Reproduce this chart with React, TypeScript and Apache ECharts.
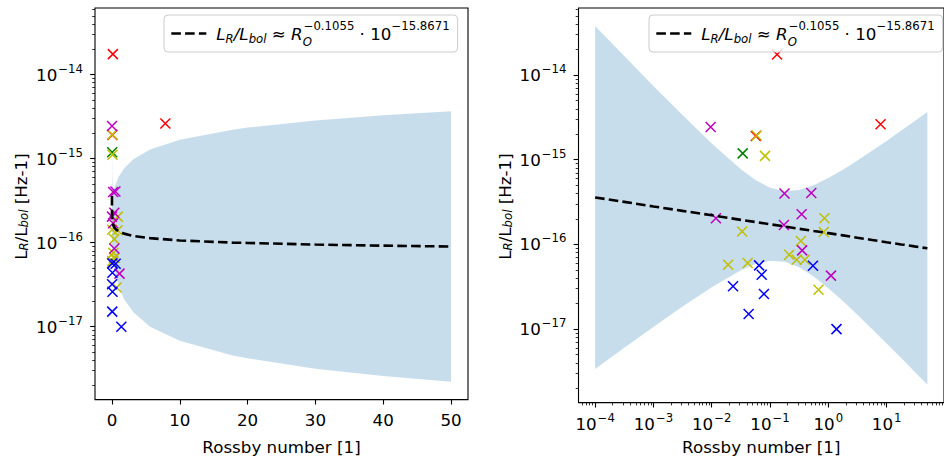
import React, { useEffect, useRef } from 'react';
import * as echarts from 'echarts';

// ---------------- data ----------------
// Rossby number [1], L_R/L_bol [Hz-1]
const redPoints: number[][] = [[0.132, 1.75e-14], [0.057, 1.91e-15], [7.87, 2.62e-15]];
const greenPoints: number[][] = [[0.034, 1.19e-15]];
const yellowPoints: number[][] = [
  [0.059, 1.93e-15], [0.082, 1.11e-15], [0.857, 2.04e-16], [0.0332, 1.42e-16],
  [0.834, 1.40e-16], [0.338, 1.10e-16], [0.213, 7.55e-17], [0.286, 6.59e-17],
  [0.395, 6.59e-17], [0.0191, 5.75e-17], [0.0414, 6.03e-17], [0.679, 2.92e-17],
];
const magentaPoints: number[][] = [
  [0.0096, 2.44e-15], [0.177, 4.0e-16], [0.51, 4.05e-16], [0.0118, 2.04e-16],
  [0.348, 2.27e-16], [0.173, 1.70e-16], [0.356, 8.5e-17], [1.11, 4.28e-17],
];
const bluePoints: number[][] = [
  [0.0649, 5.66e-17], [0.072, 4.39e-17], [0.545, 5.6e-17], [0.0232, 3.2e-17],
  [0.0787, 2.6e-17], [0.043, 1.51e-17], [1.38, 1.0e-17],
];

// fit line and its shaded band, sampled along the Rossby number
const bandX = [1e-4, 3.16e-4, 1e-3, 3.16e-3, 0.01, 0.0316, 0.0562, 0.1, 0.178, 0.316, 0.562, 1, 1.78, 3.16, 5.62, 10, 17.8, 20, 30, 40, 50];
const fitY = [3.59e-16, 3.18e-16, 2.81e-16, 2.49e-16, 2.21e-16, 1.95e-16, 1.84e-16, 1.73e-16, 1.63e-16, 1.53e-16, 1.44e-16, 1.36e-16, 1.28e-16, 1.20e-16, 1.13e-16, 1.06e-16, 1.00e-16, 9.91e-17, 9.48e-17, 9.20e-17, 8.99e-17];
const bandUpper = [3.80e-14, 1.68e-14, 7.45e-15, 3.37e-15, 1.56e-15, 7.73e-16, 5.78e-16, 4.67e-16, 4.24e-16, 4.39e-16, 5.00e-16, 6.07e-16, 7.62e-16, 9.79e-16, 1.28e-15, 1.67e-15, 2.21e-15, 2.34e-15, 2.84e-15, 3.28e-15, 3.66e-15];
const bandLower = [3.39e-18, 6.03e-18, 1.06e-17, 1.85e-17, 3.13e-17, 4.94e-17, 5.86e-17, 6.41e-17, 6.25e-17, 5.37e-17, 4.17e-17, 3.04e-17, 2.14e-17, 1.48e-17, 1.00e-17, 6.78e-18, 4.55e-18, 4.20e-18, 3.16e-18, 2.58e-18, 2.21e-18];

// tick labels (exponents of ten / linear values)
const yMajorExponents = [-17, -16, -15, -14];
const xMajorExponentsRight = [-4, -3, -2, -1, 0, 1];
const xTicksLeft = [0, 10, 20, 30, 40, 50];

const xLabel = 'Rossby number [1]';
const fitName = 'fit';

// ---------------- styling ----------------
const FONT = 'DejaVu Sans';
const FS = 16.7;
const FS_SMALL = 11.7;
const Y_MIN = -17.868;
const Y_MAX = -13.208;
const XR_MIN = -4.285;
const XR_MAX = 1.984;
const XL_MIN = -2.5;
const XL_MAX = 52.5;
const FIT_LINE = { color: '#000', width: 2.6, type: [9.6, 4.2] };

const lg = (v: number) => Math.log10(v);
const MINUS = '\u2212';

function minorLogValues(lo: number, hi: number): number[] {
  const out: number[] = [];
  for (let n = Math.floor(lo); n <= Math.ceil(hi); n++) {
    for (let k = 2; k <= 9; k++) {
      const v = n + Math.log10(k);
      if (v >= lo && v <= hi) out.push(v);
    }
  }
  return out;
}

const tickRich = {
  b: { fontFamily: FONT, fontSize: FS, color: '#000', lineHeight: 24, verticalAlign: 'middle' },
  s: { fontFamily: FONT, fontSize: FS_SMALL, color: '#000', lineHeight: 12, verticalAlign: 'top', padding: [0, 0, 0, 1] },
};
const powLabel = (v: number) => {
  const n = Math.round(v);
  return `{b|10}{s|${n < 0 ? MINUS + -n : String(n)}}`;
};

const tickLine = { color: '#000', width: 1.1 };

const legendText =
  `{iL|L}{sub|R}{i|/L}{sub|bol}{n| \u2248 }{i|R}{subO|O}{sup|${MINUS}0.1055}{n| \u00b7 10}{sup|${MINUS}15.8671}`;
const legendRich = {
  iL: { fontFamily: FONT, fontStyle: 'italic', fontSize: FS, color: '#000', lineHeight: 30, verticalAlign: 'middle', padding: [0, 0, 0, 5] },
  i: { fontFamily: FONT, fontStyle: 'italic', fontSize: FS, color: '#000', lineHeight: 30, verticalAlign: 'middle' },
  n: { fontFamily: FONT, fontSize: FS, color: '#000', lineHeight: 30, verticalAlign: 'middle' },
  sub: { fontFamily: FONT, fontStyle: 'italic', fontSize: FS_SMALL, color: '#000', lineHeight: 12, verticalAlign: 'bottom', padding: [0, 0, 4, 0] },
  subO: { fontFamily: FONT, fontStyle: 'italic', fontSize: FS_SMALL, color: '#000', lineHeight: 12, verticalAlign: 'bottom', padding: [0, 0, 0.5, 0], width: 1 },
  sup: { fontFamily: FONT, fontSize: FS_SMALL, color: '#000', lineHeight: 12, verticalAlign: 'top', padding: [1.5, 0, 0, 0] },
};

const yLabelText = '{n|L}{s|R}{n|/L}{s|bol}{n| [Hz-1]}';
const yLabelRich = {
  n: { fontFamily: FONT, fontSize: FS, fill: '#000', lineHeight: 24, verticalAlign: 'middle' },
  s: { fontFamily: FONT, fontStyle: 'italic', fontSize: FS_SMALL, fill: '#000', lineHeight: 12, verticalAlign: 'bottom', padding: [0, 0, 3, 0] },
};

const crossSymbol = 'path://M0,0L10,10M10,0L0,10';

function buildOption() {
  const grids = [
    { left: 95, top: 8, width: 373, height: 397, show: true, borderColor: '#000', borderWidth: 1.1, backgroundColor: 'transparent' },
    { left: 578.5, top: 8, width: 373, height: 397, show: true, borderColor: '#000', borderWidth: 1.1, backgroundColor: 'transparent' },
  ];

  const yMinor = minorLogValues(Y_MIN, Y_MAX);
  const xMinorRight = minorLogValues(XR_MIN, XR_MAX);
  const hiddenLine = { show: false, onZero: false };

  const yMajorAxis = (gridIndex: number) => ({
    type: 'value', gridIndex, min: Y_MIN, max: Y_MAX, position: 'left', offset: 0,
    axisLine: hiddenLine, splitLine: { show: false },
    axisTick: { show: true, customValues: yMajorExponents, length: 4.9, lineStyle: tickLine },
    axisLabel: { show: true, customValues: yMajorExponents, formatter: powLabel, margin: 12, rich: tickRich, color: '#000', fontFamily: FONT },
  });
  const yMinorAxis = (gridIndex: number) => ({
    type: 'value', gridIndex, min: Y_MIN, max: Y_MAX, position: 'left', offset: 0,
    axisLine: hiddenLine, splitLine: { show: false },
    axisTick: { show: true, customValues: yMinor, length: 2.8, lineStyle: { color: '#000', width: 0.8 } },
    axisLabel: { show: false },
  });

  const xAxes = [
    {
      type: 'value', gridIndex: 0, min: XL_MIN, max: XL_MAX, position: 'bottom', offset: 0,
      axisLine: hiddenLine, splitLine: { show: false },
      axisTick: { show: true, customValues: xTicksLeft, length: 4.9, lineStyle: tickLine },
      axisLabel: { show: true, customValues: xTicksLeft, margin: 8.5, lineHeight: 24, fontSize: FS, fontFamily: FONT, color: '#000' },
      name: xLabel, nameLocation: 'middle', nameGap: 34,
      nameTextStyle: { fontFamily: FONT, fontSize: FS, color: '#000', lineHeight: 20 },
    },
    {
      type: 'value', gridIndex: 1, min: XR_MIN, max: XR_MAX, position: 'bottom', offset: 0,
      axisLine: hiddenLine, splitLine: { show: false },
      axisTick: { show: true, customValues: xMajorExponentsRight, length: 4.9, lineStyle: tickLine },
      axisLabel: { show: true, customValues: xMajorExponentsRight, formatter: powLabel, margin: 9, rich: tickRich, color: '#000', fontFamily: FONT },
      name: xLabel, nameLocation: 'middle', nameGap: 34,
      nameTextStyle: { fontFamily: FONT, fontSize: FS, color: '#000', lineHeight: 20 },
    },
    {
      type: 'value', gridIndex: 1, min: XR_MIN, max: XR_MAX, position: 'bottom', offset: 0,
      axisLine: hiddenLine, splitLine: { show: false },
      axisTick: { show: true, customValues: xMinorRight, length: 2.8, lineStyle: { color: '#000', width: 0.8 } },
      axisLabel: { show: false },
    },
  ];
  const yAxes = [yMajorAxis(0), yMinorAxis(0), yMajorAxis(1), yMinorAxis(1)];

  // panel transforms for the x axis: linear (left) and log10 (right)
  const panels = [
    { xAxisIndex: 0, yAxisIndex: 0, tx: (v: number) => v },
    { xAxisIndex: 1, yAxisIndex: 2, tx: (v: number) => lg(v) },
  ];

  const pointGroups = [
    { pts: redPoints, color: '#ff0000' },
    { pts: greenPoints, color: '#008000' },
    { pts: yellowPoints, color: '#bfbf00' },
    { pts: magentaPoints, color: '#bf00bf' },
    { pts: bluePoints, color: '#0000ff' },
  ];

  const series: any[] = [];
  panels.forEach((p) => {
    series.push({
      type: 'custom',
      xAxisIndex: p.xAxisIndex, yAxisIndex: p.yAxisIndex,
      silent: true, z: 1,
      data: [[p.tx(bandX[0]), lg(fitY[0])]],
      renderItem: (_params: any, api: any) => {
        const pts: number[][] = [];
        for (let i = 0; i < bandX.length; i++) pts.push(api.coord([p.tx(bandX[i]), lg(bandUpper[i])]));
        for (let i = bandX.length - 1; i >= 0; i--) pts.push(api.coord([p.tx(bandX[i]), lg(bandLower[i])]));
        return { type: 'polygon', shape: { points: pts }, style: { fill: 'rgba(31,119,180,0.25)', stroke: 'none' } };
      },
    });
  });
  panels.forEach((p) => {
    pointGroups.forEach((g) => {
      series.push({
        type: 'scatter',
        xAxisIndex: p.xAxisIndex, yAxisIndex: p.yAxisIndex,
        silent: true, z: 3,
        symbol: crossSymbol, symbolSize: 10,
        itemStyle: { color: 'transparent', borderColor: g.color, borderWidth: 1.5, opacity: 1 },
        data: g.pts.map((d) => [p.tx(d[0]), lg(d[1])]),
      });
    });
  });
  panels.forEach((p) => {
    series.push({
      type: 'line', name: fitName,
      xAxisIndex: p.xAxisIndex, yAxisIndex: p.yAxisIndex,
      silent: true, z: 4,
      symbol: 'none', showSymbol: false,
      lineStyle: FIT_LINE,
      itemStyle: { color: '#000' },
      data: bandX.map((x, i) => [p.tx(x), lg(fitY[i])]),
    });
  });

  const legendCommon = {
    data: [fitName], top: 15, orient: 'horizontal', selectedMode: false,
    itemWidth: 35, itemHeight: 14, padding: [3.5, 8, 3.5, 6],
    borderColor: '#cccccc', borderWidth: 1, borderRadius: 4,
    backgroundColor: 'rgba(255,255,255,0.8)',
    itemStyle: { color: 'transparent', borderColor: 'transparent', borderWidth: 0, opacity: 0 },
    lineStyle: { ...FIT_LINE, opacity: 1 },
    formatter: () => legendText,
    textStyle: { rich: legendRich, fontFamily: FONT, fontSize: FS, color: '#000' },
  };

  return {
    animation: false,
    backgroundColor: '#ffffff',
    grid: grids,
    xAxis: xAxes,
    yAxis: yAxes,
    legend: [
      { ...legendCommon, left: 164 },
      { ...legendCommon, left: 649 },
    ],
    graphic: [
      { type: 'text', x: 21, y: 206.5, rotation: Math.PI / 2, silent: true,
        style: { text: yLabelText, rich: yLabelRich, align: 'center', verticalAlign: 'middle', fontFamily: FONT, fontSize: FS, fill: '#000' } },
      { type: 'text', x: 504.5, y: 206.5, rotation: Math.PI / 2, silent: true,
        style: { text: yLabelText, rich: yLabelRich, align: 'center', verticalAlign: 'middle', fontFamily: FONT, fontSize: FS, fill: '#000' } },
    ],
    series,
  };
}

export default function App() {
  const ref = useRef<HTMLDivElement>(null);
  useEffect(() => {
    if (!ref.current) return;
    const chart = echarts.init(ref.current, undefined, { renderer: 'svg' });
    chart.setOption(buildOption() as any);
    return () => chart.dispose();
  }, []);
  return (
    <div
      ref={ref}
      style={{ position: 'fixed', left: 0, top: 0, width: 944, height: 462, background: '#fff' }}
    />
  );
}
